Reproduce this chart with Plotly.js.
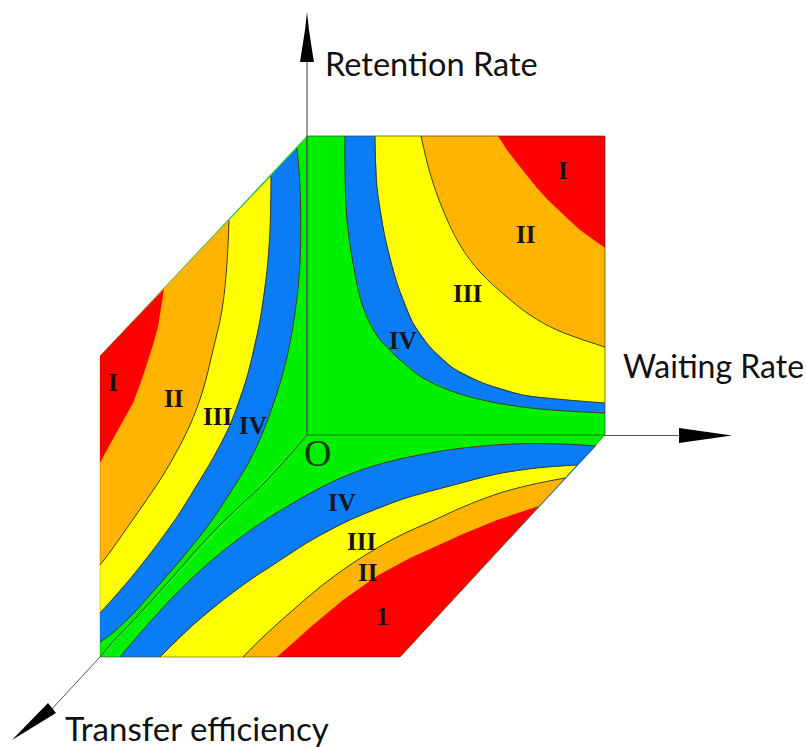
<!DOCTYPE html>
<html><head><meta charset="utf-8">
<script src="https://cdn.plot.ly/plotly-3.0.1.min.js"></script>
<style>html,body{margin:0;padding:0;background:#fff}#c{width:806px;height:747px}</style>
</head><body><div id="c"></div>
<script>
// Faces (outline)
const topFaceX=[307,605,605,307], topFaceY=[136,136,435,435];
const leftFaceX=[307,100,100,307], leftFaceY=[136,356,657,435];
const bottomFaceX=[307,605,400,100], bottomFaceY=[435,435,657,657];

// Top face boundaries
const topGreenBlueX=[345,345,347,353,363,378,397,423,457,497,540,605];
const topGreenBlueY=[136,170,220,263,307,337,357,378,393,403,409,413];
const topBlueYellowX=[375,377,385,397,413,430,453,483,523,557,605];
const topBlueYellowY=[136,187,237,283,323,347,368,383,395,399,403];
const topYellowOrangeX=[421,430,443,460,480,507,530,557,605];
const topYellowOrangeY=[136,173,210,245,272,297,315,330,347];
const topOrangeRedX=[498,507,517,527,537,547,557,568,580,592,605];
const topOrangeRedY=[136,150,163,176,188,199,209,219,230,239,248];

// Left face boundaries
const leftGreenBlueX=[297,300,300,295,287,277,263,250,237,210,183,157,130,110,100];
const leftGreenBlueY=[148,187,263,313,357,393,432,460,482,523,557,587,617,635,642];
const leftBlueYellowX=[271,270,267,260,247,230,212,200,177,153,130,110,100];
const leftBlueYellowY=[176,230,270,320,377,425,460,480,517,550,579,602,613];
const leftYellowOrangeX=[229,227,222,213,203,190,172,160,143,127,110,100];
const leftYellowOrangeY=[220,263,310,350,390,425,460,480,505,528,552,565];
const leftOrangeRedX=[164,161,158,153,148,141,133,125,118,108,100];
const leftOrangeRedY=[289,308,327,345,360,382,403,418,430,448,463];

// Bottom face boundaries
const botGreenBlueX=[120,143,173,203,237,267,300,320,343,367,400,430,463,513,563,596];
const botGreenBlueY=[657,630,597,568,540,519,499,488,477,468,459,453,448,444,444,446];
const botBlueYellowX=[160,193,227,253,270,310,350,403,450,497,537,577];
const botBlueYellowY=[657,625,597,578,567,541,520,499,486,474,468,465];
const botYellowOrangeX=[243,263,293,320,350,377,403,430,463,497,530,565];
const botYellowOrangeY=[657,637,610,587,565,548,534,522,507,494,485,478];
const botOrangeRedX=[277,285,313,343,377,410,430,463,497,539];
const botOrangeRedY=[657,650,625,600,576,558,549,534,520,506];

// Axes
const axisVX=[307,307], axisVY=[435,40];
const axisHX=[605,690], axisHY=[435.5,435.5];
const axisDX=[307,267,243,210,177,143,110,100], axisDY=[435,480,503,535,572,610,645,657];
const axisTailX=[100,50], axisTailY=[657,711];
const headVX=[307,309,312,314,300,302,305], headVY=[12,30,50,62,62,50,30];
const headHX=[732,705,679,679,705], headHY=[435.5,432,428,443,439];
const headDX=[12,48,56], headDY=[740,703,713];

// Text
const zoneLabels=['I','II','III','IV','I','II','III','IV','IV','III','II','1','O'];
const zoneLabelX=[563,525,467,403,113,173,217,253,342,361,367,382,317];
const zoneLabelY=[170,234,293,340,382,398,416,425,502,541,572,616,453];
const axisNames=['Retention Rate','Waiting Rate','Transfer efficiency'];
const axisNameX=[431,713,197];
const axisNameY=[63,365,728];

const GREEN='#00f000',BLUE='#0a7cf5',YELLOW='#ffff00',ORANGE='#ffb400',RED='#ff0000',INK='#3a3a28';
const traces=[];
function fillPoly(x,y,c){traces.push({x:[...x,x[0]],y:[...y,y[0]],mode:'lines',fill:'toself',fillcolor:c,line:{width:0,color:c},hoverinfo:'skip',showlegend:false});}
function zoneFill(x,y,cx,cy,c){fillPoly([...x,cx],[...y,cy],c);}
function stroke(x,y,w,col,smooth){traces.push({x:x,y:y,mode:'lines',line:{width:w,color:col,shape:smooth?'spline':'linear',smoothing:1},hoverinfo:'skip',showlegend:false});}

fillPoly(topFaceX,topFaceY,GREEN);
zoneFill(topGreenBlueX,topGreenBlueY,605,136,BLUE);
zoneFill(topBlueYellowX,topBlueYellowY,605,136,YELLOW);
zoneFill(topYellowOrangeX,topYellowOrangeY,605,136,ORANGE);
zoneFill(topOrangeRedX,topOrangeRedY,605,136,RED);

fillPoly(leftFaceX,leftFaceY,GREEN);
zoneFill(leftGreenBlueX,leftGreenBlueY,100,356,BLUE);
zoneFill(leftBlueYellowX,leftBlueYellowY,100,356,YELLOW);
zoneFill(leftYellowOrangeX,leftYellowOrangeY,100,356,ORANGE);
zoneFill(leftOrangeRedX,leftOrangeRedY,100,356,RED);

fillPoly(bottomFaceX,bottomFaceY,GREEN);
zoneFill(botGreenBlueX,botGreenBlueY,400,657,BLUE);
zoneFill(botBlueYellowX,botBlueYellowY,400,657,YELLOW);
zoneFill(botYellowOrangeX,botYellowOrangeY,400,657,ORANGE);
zoneFill(botOrangeRedX,botOrangeRedY,400,657,RED);

[[topGreenBlueX,topGreenBlueY],[topBlueYellowX,topBlueYellowY],[topYellowOrangeX,topYellowOrangeY],
 [leftGreenBlueX,leftGreenBlueY],[leftBlueYellowX,leftBlueYellowY],[leftYellowOrangeX,leftYellowOrangeY],
 [botGreenBlueX,botGreenBlueY],[botBlueYellowX,botBlueYellowY],[botYellowOrangeX,botYellowOrangeY]]
 .forEach(p=>stroke(p[0],p[1],1,INK,true));

stroke([...topFaceX,topFaceX[0]],[...topFaceY,topFaceY[0]],1,'rgba(50,50,30,0.65)',false);
stroke(leftFaceX.slice(0,3),leftFaceY.slice(0,3),0.8,'rgba(60,60,40,0.35)',false);
stroke(bottomFaceX.slice(1,4),bottomFaceY.slice(1,4),1,'rgba(50,50,30,0.5)',false);
stroke(axisVX,axisVY,1.2,'#555',false);
stroke(axisHX,axisHY,1.2,'#555',false);
stroke(axisDX,axisDY,1,'#3a4a30',true);
stroke(axisTailX,axisTailY,1,'#555',false);
fillPoly(headVX,headVY,'#000');
fillPoly(headHX,headHY,'#000');
fillPoly(headDX,headDY,'#000');

const annotations=[];
zoneLabels.forEach((t,i)=>{const big=t==='O';annotations.push({x:zoneLabelX[i],y:zoneLabelY[i],xref:'x',yref:'y',text:big?t:'<b>'+t+'</b>',showarrow:false,xanchor:'center',yanchor:'middle',
 font:{family:big?'Liberation Sans Narrow, Liberation Serif':'Liberation Serif',size:big?38:25,color:big?'#0d3a10':'#14141a'}});});
axisNames.forEach((t,i)=>annotations.push({x:axisNameX[i],y:axisNameY[i],xref:'x',yref:'y',text:t,showarrow:false,xanchor:'center',yanchor:'middle',
 font:{family:'Lato',size:[32.5,32,33][i],color:'#111'}}));

Plotly.newPlot('c',traces,{width:806,height:747,autosize:false,margin:{l:0,r:0,t:0,b:0},paper_bgcolor:'#fff',plot_bgcolor:'#fff',showlegend:false,
 xaxis:{range:[0,806],visible:false,fixedrange:true},yaxis:{range:[747,0],visible:false,fixedrange:true},annotations:annotations},{displayModeBar:false,staticPlot:true});
</script></body></html>
